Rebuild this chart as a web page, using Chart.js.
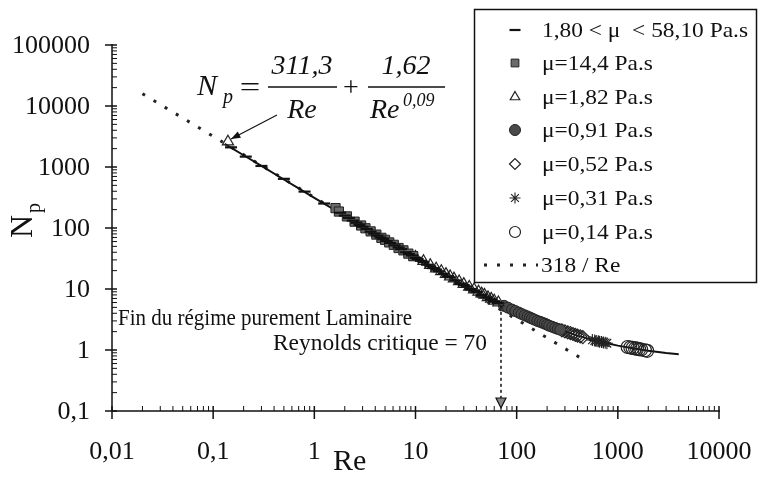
<!DOCTYPE html>
<html><head><meta charset="utf-8">
<script src="https://cdn.jsdelivr.net/npm/chart.js@4/dist/chart.umd.min.js"></script>
<style>html,body{margin:0;padding:0;background:#fff;}#wrap{width:759px;height:478px;}</style>
</head><body><div id="wrap"><canvas id="c" width="759" height="478"></canvas></div>
<script>
// ---- tick labels ----
const xTicks = [0.01, 0.1, 1, 10, 100, 1000, 10000];
const xTickLabels = ['0,01', '0,1', '1', '10', '100', '1000', '10000'];
const yTicks = [0.1, 1, 10, 100, 1000, 10000, 100000];
const yTickLabels = ['0,1', '1', '10', '100', '1000', '10000', '100000'];
const minorMult = [2, 3, 4, 5, 6, 7, 8, 9];

// ---- series names ----
const seriesLabels = ['1,80 < μ  < 58,10 Pa.s', 'μ=14,4 Pa.s', 'μ=1,82 Pa.s', 'μ=0,91 Pa.s',
  'μ=0,52 Pa.s', 'μ=0,31 Pa.s', 'μ=0,14 Pa.s', '318 / Re'];

// ---- series values (Re, Np) ----
const reA = [0.15, 0.21, 0.3, 0.5, 0.8, 1.25, 1.8, 2.0, 2.2, 2.4, 2.6, 2.8, 3.0, 3.3, 3.6, 3.9, 4.2, 4.5, 4.8, 5.2, 5.6, 6.2, 6.8, 7.2, 8, 8.6, 9.2, 10, 10.5, 11.3, 12, 13, 14, 15, 16, 17, 19, 21, 22, 25, 28, 30, 32, 35, 38, 40, 45, 50, 55, 60, 65];
const npA = [2100, 1480, 1040, 640, 395, 252, 178, 160, 146, 132, 122, 112, 105, 96, 87, 81, 75, 70, 66, 61, 57, 52, 48, 45, 40, 37.5, 35.5, 32.5, 31, 29, 27.5, 25, 23.5, 22, 20.8, 19.5, 17.8, 16.2, 15.5, 13.8, 12.3, 11.6, 11, 10, 9.4, 8.9, 8, 7.3, 6.8, 6.3, 5.9];
const reB = [1.62, 1.75, 2.1, 2.5, 2.9, 3.2, 3.6, 4.1, 4.6, 5.0, 5.5, 6.1, 6.8, 7.6, 8.5, 9.5];
const npB = [212, 186, 155, 127, 110, 99, 88, 78, 69, 64, 58, 53, 47, 43, 38, 34.5];
const reC = [0.14, 10, 12, 14, 16, 18, 20, 22, 24, 27, 30, 34, 38, 42, 45, 48, 52, 56, 60, 66];
const npC = [2600, 33.5, 28.5, 24.5, 21.5, 19.5, 17.5, 16, 14.8, 13.3, 12, 10.8, 9.8, 9, 8.4, 8, 7.3, 6.9, 6.4, 6.0];
const reD = [75, 82, 90, 97, 105, 112, 120, 128, 135, 142, 150, 160, 170, 180, 190, 200, 210, 225, 240, 255, 270];
const npD = [5.3, 4.95, 4.6, 4.35, 4.1, 3.9, 3.7, 3.55, 3.4, 3.28, 3.15, 3.0, 2.9, 2.8, 2.7, 2.6, 2.5, 2.4, 2.3, 2.22, 2.15];
const reE = [280, 300, 320, 340, 360, 380, 400, 425, 450];
const npE = [2.1, 2.02, 1.95, 1.89, 1.83, 1.77, 1.72, 1.67, 1.63];
const reF = [560, 590, 610, 640, 660, 690, 720, 750, 780];
const npF = [1.46, 1.43, 1.41, 1.39, 1.37, 1.35, 1.33, 1.31, 1.29];
const reG = [1250, 1330, 1400, 1480, 1550, 1620, 1700, 1850, 1950];
const npG = [1.12, 1.1, 1.08, 1.06, 1.05, 1.03, 1.02, 0.99, 0.97];
// fitted correlation curve
const reFit = [0.13, 0.2, 0.3, 0.5, 0.7, 1, 1.5, 2, 3, 4, 5, 7, 10, 15, 20, 30, 40, 50, 70, 100, 150, 200, 300, 400, 500, 700, 1000, 1500, 2000, 3000, 4000];
const npFit = [2397, 1558, 1040, 624, 446, 313, 209, 157, 105, 79.2, 63.7, 45.8, 32.4, 22.0, 16.8, 11.6, 8.94, 7.37, 5.55, 4.18, 3.11, 2.56, 2.01, 1.72, 1.55, 1.34, 1.18, 1.05, 0.97, 0.89, 0.85];
// 318/Re reference line (dotted)
const reRef = [0.02, 480];
const npRef = [15900, 0.66];
// annotation values
const reCritical = 70;

const pts = (xs, ys) => xs.map((x, i) => ({x: x, y: ys[i]}));

const markerSets = [
  {re: reA, np: npA, pointStyle: 'line', pointRadius: 6, borderWidth: 2.2, borderColor: '#111', backgroundColor: '#111'},
  {re: reB, np: npB, pointStyle: 'rect', pointRadius: 6.5, borderWidth: 1, borderColor: '#222', backgroundColor: '#6a6a6a'},
  {re: reC, np: npC, pointStyle: 'triangle', pointRadius: 6.5, borderWidth: 1.2, borderColor: '#222', backgroundColor: 'rgba(255,255,255,0)'},
  {re: reD, np: npD, pointStyle: 'circle', pointRadius: 5.5, borderWidth: 1, borderColor: '#222', backgroundColor: '#4a4a4a'},
  {re: reE, np: npE, pointStyle: 'rectRot', pointRadius: 6.5, borderWidth: 1.2, borderColor: '#222', backgroundColor: 'rgba(255,255,255,0)'},
  {re: reF, np: npF, pointStyle: 'star', pointRadius: 6, borderWidth: 1.1, borderColor: '#222', backgroundColor: 'rgba(255,255,255,0)'},
  {re: reG, np: npG, pointStyle: 'circle', pointRadius: 6.5, borderWidth: 1.2, borderColor: '#222', backgroundColor: 'rgba(255,255,255,0)'}
];

const datasets = markerSets.map((m, i) => ({
  label: seriesLabels[i], data: pts(m.re, m.np), showLine: false,
  pointStyle: m.pointStyle, pointRadius: m.pointRadius, borderWidth: m.borderWidth,
  borderColor: m.borderColor, backgroundColor: m.backgroundColor, order: 1
}));
datasets.push({label: 'fit', data: pts(reFit, npFit), showLine: true, pointRadius: 0,
  borderColor: '#111', borderWidth: 2, order: 5});
datasets.push({label: seriesLabels[7], data: pts(reRef, npRef), showLine: true, pointRadius: 0,
  borderColor: '#222', borderWidth: 3, borderDash: [3, 10], order: 6});

const SERIF = '"Liberation Serif", "Times New Roman", serif';

function txt(ctx, s, x, y, font, align, baseline, sx) {
  ctx.save();
  ctx.font = font; ctx.textAlign = align || 'left'; ctx.textBaseline = baseline || 'alphabetic';
  ctx.translate(x, y); if (sx) ctx.scale(sx, 1);
  ctx.fillText(s, 0, 0);
  ctx.restore();
}
function fitScale(ctx, s, font, w) { ctx.save(); ctx.font = font; const m = ctx.measureText(s).width; ctx.restore(); return w / m; }

function marker(ctx, m, x, y) {
  ctx.save();
  ctx.fillStyle = m.backgroundColor; ctx.strokeStyle = m.borderColor; ctx.lineWidth = m.borderWidth;
  Chart.helpers.drawPoint(ctx, {pointStyle: m.pointStyle, radius: m.pointRadius, borderWidth: m.borderWidth, rotation: 0}, x, y);
  ctx.restore();
}

const deco = {
  id: 'deco',
  beforeDatasetsDraw(chart) {
    const ctx = chart.ctx, xs = chart.scales.x, ys = chart.scales.y, ca = chart.chartArea;
    ctx.save();
    ctx.strokeStyle = '#111'; ctx.fillStyle = '#111';
    ctx.lineWidth = 1.5;
    ctx.beginPath();
    ctx.moveTo(ca.left, ca.top - 1); ctx.lineTo(ca.left, ca.bottom);
    ctx.lineTo(ca.right + 1, ca.bottom);
    ctx.stroke();
    yTicks.forEach((v, i) => {
      const py = ys.getPixelForValue(v);
      ctx.lineWidth = 1.5;
      ctx.beginPath(); ctx.moveTo(ca.left - 7, py); ctx.lineTo(ca.left + 5, py); ctx.stroke();
      if (i < yTicks.length - 1) {
        ctx.lineWidth = 1;
        minorMult.forEach(k => {
          const p = ys.getPixelForValue(v * k);
          ctx.beginPath(); ctx.moveTo(ca.left, p); ctx.lineTo(ca.left + 5, p); ctx.stroke();
        });
      }
      txt(ctx, yTickLabels[i], 90, py + 1, '26px ' + SERIF, 'right', 'middle');
    });
    xTicks.forEach((v, i) => {
      const px = xs.getPixelForValue(v);
      ctx.lineWidth = 1.5;
      ctx.beginPath(); ctx.moveTo(px, ca.bottom - 5); ctx.lineTo(px, ca.bottom + 8); ctx.stroke();
      if (i < xTicks.length - 1) {
        ctx.lineWidth = 1;
        minorMult.forEach(k => {
          const p = xs.getPixelForValue(v * k);
          ctx.beginPath(); ctx.moveTo(p, ca.bottom - 5); ctx.lineTo(p, ca.bottom); ctx.stroke();
        });
      }
      txt(ctx, xTickLabels[i], px, 459, '26px ' + SERIF, 'center', 'alphabetic');
    });
    txt(ctx, 'Re', 333, 470, '30px ' + SERIF, 'left', 'alphabetic');
    ctx.save();
    ctx.translate(32, 238); ctx.rotate(-Math.PI / 2);
    ctx.font = '32px ' + SERIF; ctx.textBaseline = 'alphabetic'; ctx.textAlign = 'left';
    ctx.fillText('N', 0, 0);
    ctx.font = '20px ' + SERIF;
    ctx.fillText('p', 25, 8);
    ctx.restore();
    ctx.restore();
  },
  afterDatasetsDraw(chart) {
    const ctx = chart.ctx, xs = chart.scales.x, ys = chart.scales.y, ca = chart.chartArea;
    ctx.save();
    ctx.fillStyle = '#111'; ctx.strokeStyle = '#111';
    const it = (s) => 'italic ' + s + 'px ' + SERIF;
    txt(ctx, 'N', 197, 95, it(30), 'left');
    txt(ctx, 'p', 223, 103, it(20), 'left');
    txt(ctx, '=', 250, 96, '28px ' + SERIF, 'center', 'alphabetic', 1.3);
    ctx.lineWidth = 1.3;
    ctx.beginPath(); ctx.moveTo(268, 87); ctx.lineTo(337, 87); ctx.moveTo(368, 87); ctx.lineTo(445, 87); ctx.stroke();
    txt(ctx, '311,3', 302, 74, it(28), 'center');
    txt(ctx, 'Re', 302, 118, it(28), 'center');
    txt(ctx, '+', 351, 96, '28px ' + SERIF, 'center');
    txt(ctx, '1,62', 406, 74, it(28), 'center');
    txt(ctx, 'Re', 370, 118, it(28), 'left');
    txt(ctx, '0,09', 403, 106, it(18), 'left');
    const ax0 = 277, ay0 = 115, ax1 = 231, ay1 = 139;
    ctx.lineWidth = 1.2;
    ctx.beginPath(); ctx.moveTo(ax0, ay0); ctx.lineTo(ax1, ay1); ctx.stroke();
    const ang = Math.atan2(ay1 - ay0, ax1 - ax0);
    ctx.beginPath();
    ctx.moveTo(ax1, ay1);
    ctx.lineTo(ax1 - 10 * Math.cos(ang - 0.35), ay1 - 10 * Math.sin(ang - 0.35));
    ctx.lineTo(ax1 - 10 * Math.cos(ang + 0.35), ay1 - 10 * Math.sin(ang + 0.35));
    ctx.closePath(); ctx.fill();
    const f24 = '24px ' + SERIF;
    const s1 = 'Fin du régime purement Laminaire', s2 = 'Reynolds critique = 70';
    txt(ctx, s1, 118, 325, f24, 'left', 'alphabetic', fitScale(ctx, s1, f24, 294));
    txt(ctx, s2, 487, 350, f24, 'right', 'alphabetic', fitScale(ctx, s2, f24, 214));
    const vx = xs.getPixelForValue(reCritical);
    const vy0 = ys.getPixelForValue(5.3);
    const tip = ca.bottom - 3;
    ctx.lineWidth = 1.5; ctx.setLineDash([3, 3]);
    ctx.beginPath(); ctx.moveTo(vx, vy0); ctx.lineTo(vx, tip - 9); ctx.stroke();
    ctx.setLineDash([]);
    ctx.beginPath(); ctx.moveTo(vx - 5, tip - 10); ctx.lineTo(vx + 5, tip - 10); ctx.lineTo(vx, tip); ctx.closePath();
    ctx.fillStyle = '#888'; ctx.fill(); ctx.lineWidth = 1.2; ctx.stroke();
    // legend box
    const f22 = '22px ' + SERIF;
    ctx.fillStyle = '#fff';
    ctx.fillRect(474, 9, 283, 274);
    ctx.strokeStyle = '#111'; ctx.lineWidth = 1.5;
    ctx.strokeRect(474.5, 9.5, 282, 273);
    ctx.fillStyle = '#111';
    const rowY = [30, 63, 97, 130, 164, 198, 232, 265];
    const sx = fitScale(ctx, seriesLabels[0], f22, 206);
    markerSets.forEach((m, i) => {
      marker(ctx, Object.assign({}, m, {pointRadius: Math.min(m.pointRadius, 5.5)}), 515, rowY[i]);
      ctx.fillStyle = '#111';
      txt(ctx, seriesLabels[i], 542, rowY[i] + 1, f22, 'left', 'middle', sx);
    });
    ctx.save();
    ctx.strokeStyle = '#222'; ctx.lineWidth = 3; ctx.setLineDash([3, 10]);
    ctx.beginPath(); ctx.moveTo(484, rowY[7]); ctx.lineTo(538, rowY[7]); ctx.stroke();
    ctx.restore();
    txt(ctx, seriesLabels[7], 541, rowY[7] + 1, f22, 'left', 'middle', sx);
    ctx.restore();
  }
};

new Chart(document.getElementById('c'), {
  type: 'scatter',
  data: {datasets: datasets},
  plugins: [deco],
  options: {
    responsive: false, animation: false, devicePixelRatio: 1,
    layout: {padding: {top: 45, right: 40, left: 0, bottom: 0}},
    plugins: {legend: {display: false}, tooltip: {enabled: false}},
    elements: {line: {tension: 0}},
    scales: {
      x: {type: 'logarithmic', position: 'bottom', min: 0.01, max: 10000,
        grid: {display: false}, border: {display: false}, ticks: {display: false},
        afterBuildTicks: s => { s.ticks = xTicks.map(v => ({value: v})); },
        afterFit: s => { s.height = 67; }},
      y: {type: 'logarithmic', position: 'left', min: 0.1, max: 100000,
        grid: {display: false}, border: {display: false}, ticks: {display: false},
        afterBuildTicks: s => { s.ticks = yTicks.map(v => ({value: v})); },
        afterFit: s => { s.width = 112; }}
    }
  }
});
</script>
</body></html>
